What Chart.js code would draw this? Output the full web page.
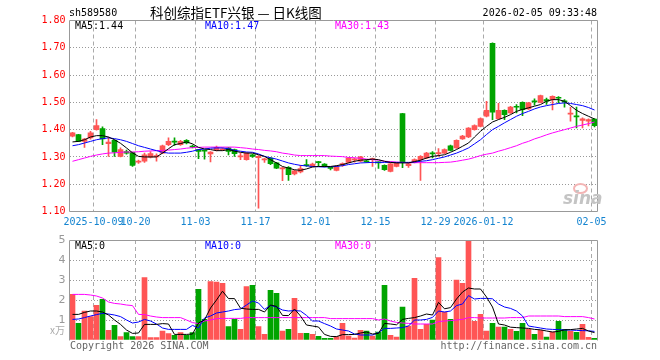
<!DOCTYPE html>
<html><head><meta charset="utf-8">
<script src="https://cdn.jsdelivr.net/npm/chart.js@4.4.1/dist/chart.umd.min.js"></script>
<style>
html,body{margin:0;padding:0;background:#fff;}
#wrap{position:relative;width:660px;height:360px;overflow:hidden;background:#fff;}
canvas{position:absolute;left:0;}
.t{position:absolute;white-space:nowrap;font-family:"DejaVu Sans Mono","Liberation Mono",monospace;font-size:10px;line-height:12px;color:#000;}
</style></head>
<body><div id="wrap">
<canvas id="main" width="660" height="240" style="top:0"></canvas>
<canvas id="vol" width="660" height="140" style="top:220px"></canvas>
<div class="t" style="left:69px;top:7px;">sh589580</div>
<div class="t" style="left:150px;top:4px;font-family:'Noto Sans CJK SC',sans-serif;font-size:13.5px;line-height:17px;">科创综指ETF兴银 — 日K线图</div>
<div class="t" style="right:63px;top:7px;">2026-02-05 09:33:48</div>
<div class="t" style="left:75px;top:20px;">MA5:1.44</div>
<div class="t" style="left:205px;top:20px;color:#0000ff;">MA10:1.47</div>
<div class="t" style="left:335px;top:20px;color:#ff00ff;">MA30:1.43</div>
<div class="t" style="left:75px;top:240px;">MA5:0</div>
<div class="t" style="left:205px;top:240px;color:#0000ff;">MA10:0</div>
<div class="t" style="left:335px;top:240px;color:#ff00ff;">MA30:0</div>
<div class="t" style="right:595px;top:324px;color:#aaa;font-family:'Noto Sans CJK SC',sans-serif;font-size:10px;">x万</div>
<div class="t" style="left:70px;top:340px;color:#666;">Copyright 2026 SINA.COM</div>
<div class="t" style="right:63px;top:340px;color:#666;">http://finance.sina.com.cn</div>
<div style="position:absolute;left:573px;top:183px;width:11px;height:7px;border:2px solid #f3b5b5;border-radius:50%;"></div>
<div class="t" style="left:563px;top:188px;color:#c4c4c4;font-family:'DejaVu Sans',sans-serif;font-size:17px;line-height:20px;font-style:italic;font-weight:bold;">sina</div>
</div>
<script>
const dates = ['2025-09-25','2025-09-26','2025-09-29','2025-09-30',
'2025-10-09','2025-10-10','2025-10-13','2025-10-14','2025-10-15','2025-10-16','2025-10-17',
'2025-10-20','2025-10-21','2025-10-22','2025-10-23','2025-10-24',
'2025-10-27','2025-10-28','2025-10-29','2025-10-30','2025-10-31',
'2025-11-03','2025-11-04','2025-11-05','2025-11-06','2025-11-07',
'2025-11-10','2025-11-11','2025-11-12','2025-11-13','2025-11-14',
'2025-11-17','2025-11-18','2025-11-19','2025-11-20','2025-11-21',
'2025-11-24','2025-11-25','2025-11-26','2025-11-27','2025-11-28',
'2025-12-01','2025-12-02','2025-12-03','2025-12-04','2025-12-05',
'2025-12-08','2025-12-09','2025-12-10','2025-12-11','2025-12-12',
'2025-12-15','2025-12-16','2025-12-17','2025-12-18','2025-12-19',
'2025-12-22','2025-12-23','2025-12-24','2025-12-25','2025-12-26',
'2025-12-29','2025-12-30','2025-12-31',
'2026-01-05','2026-01-06','2026-01-07','2026-01-08','2026-01-09',
'2026-01-12','2026-01-13','2026-01-14','2026-01-15','2026-01-16',
'2026-01-19','2026-01-20','2026-01-21','2026-01-22','2026-01-23',
'2026-01-26','2026-01-27','2026-01-28','2026-01-29','2026-01-30',
'2026-02-02','2026-02-03','2026-02-04','2026-02-05'];

const open = [1.376,1.382,1.357,1.370,1.400,1.404,1.349,1.361,1.302,1.320,
1.317,1.281,1.284,1.299,1.300,1.314,1.345,1.358,1.345,1.361,
1.340,1.327,1.324,1.311,1.325,1.326,1.333,1.327,1.300,1.290,
1.308,1.297,1.289,1.296,1.278,1.256,1.262,1.238,1.245,1.271,
1.265,1.282,1.274,1.262,1.251,1.272,1.280,1.289,1.284,1.285,
1.290,1.281,1.269,1.247,1.265,1.459,1.268,1.280,1.290,1.296,
1.314,1.312,1.314,1.341,1.333,1.366,1.373,1.400,1.412,1.449,
1.716,1.440,1.471,1.461,1.485,1.500,1.476,1.505,1.500,1.510,
1.510,1.518,1.506,1.457,1.451,1.434,1.431,1.439];
const close = [1.388,1.357,1.365,1.388,1.415,1.366,1.354,1.317,1.327,1.314,
1.269,1.284,1.308,1.312,1.305,1.341,1.357,1.354,1.357,1.351,
1.336,1.320,1.321,1.318,1.335,1.329,1.320,1.312,1.304,1.314,
1.302,1.302,1.292,1.275,1.259,1.260,1.235,1.249,1.257,1.268,
1.274,1.279,1.265,1.258,1.265,1.275,1.296,1.292,1.300,1.282,
1.293,1.278,1.253,1.275,1.278,1.280,1.275,1.290,1.302,1.314,
1.311,1.315,1.327,1.324,1.361,1.376,1.406,1.415,1.441,1.471,
1.464,1.471,1.455,1.483,1.482,1.473,1.498,1.502,1.525,1.504,
1.522,1.515,1.502,1.460,1.447,1.440,1.437,1.415];
const high = [1.390,1.383,1.368,1.394,1.437,1.410,1.373,1.363,1.333,1.325,
1.318,1.288,1.314,1.320,1.311,1.343,1.370,1.370,1.361,1.364,
1.343,1.328,1.324,1.320,1.340,1.333,1.335,1.329,1.314,1.316,
1.310,1.305,1.296,1.298,1.280,1.262,1.265,1.252,1.269,1.290,
1.277,1.284,1.276,1.263,1.268,1.278,1.298,1.296,1.302,1.290,
1.296,1.282,1.271,1.278,1.280,1.460,1.278,1.293,1.305,1.317,
1.320,1.331,1.330,1.343,1.363,1.379,1.408,1.418,1.443,1.504,
1.718,1.496,1.473,1.485,1.492,1.502,1.500,1.513,1.527,1.516,
1.524,1.521,1.510,1.482,1.483,1.443,1.440,1.441];
const low = [1.373,1.356,1.335,1.365,1.398,1.345,1.302,1.302,1.300,1.310,
1.265,1.276,1.280,1.296,1.284,1.312,1.341,1.342,1.342,1.348,
1.333,1.294,1.292,1.282,1.322,1.324,1.307,1.302,1.290,1.288,
1.298,1.112,1.280,1.272,1.257,1.213,1.214,1.234,1.241,1.265,
1.263,1.265,1.263,1.252,1.249,1.265,1.278,1.281,1.282,1.280,
1.265,1.258,1.251,1.245,1.263,1.261,1.262,1.278,1.214,1.294,
1.296,1.302,1.312,1.322,1.331,1.364,1.371,1.398,1.410,1.447,
1.437,1.438,1.437,1.459,1.461,1.451,1.474,1.490,1.498,1.492,
1.472,1.498,1.482,1.431,1.406,1.406,1.414,1.410];

const ma5 = [1.355,1.357,1.363,1.373,1.378,1.378,1.373,1.363,1.350,1.333,
1.315,1.302,1.300,1.300,1.300,1.314,1.330,1.345,1.349,1.355,
1.348,1.335,1.329,1.327,1.323,1.323,1.327,1.321,1.317,1.314,
1.314,1.308,1.302,1.290,1.278,1.265,1.259,1.253,1.251,1.256,
1.263,1.265,1.265,1.265,1.268,1.272,1.278,1.284,1.288,1.290,
1.292,1.290,1.284,1.280,1.278,1.278,1.278,1.283,1.288,1.296,
1.302,1.305,1.308,1.317,1.327,1.339,1.351,1.373,1.394,1.412,
1.428,1.437,1.445,1.455,1.467,1.474,1.480,1.486,1.492,1.504,
1.510,1.510,1.504,1.488,1.471,1.459,1.449,1.439];
const ma10 = [1.341,1.345,1.351,1.357,1.363,1.367,1.370,1.367,1.363,1.357,
1.349,1.341,1.335,1.329,1.323,1.317,1.314,1.314,1.314,1.317,
1.321,1.327,1.329,1.332,1.333,1.333,1.330,1.324,1.321,1.318,
1.317,1.311,1.302,1.297,1.292,1.285,1.278,1.273,1.269,1.267,
1.265,1.264,1.263,1.264,1.265,1.268,1.272,1.275,1.278,1.279,
1.280,1.280,1.280,1.280,1.280,1.280,1.280,1.281,1.284,1.286,
1.290,1.295,1.300,1.307,1.314,1.323,1.333,1.348,1.363,1.382,
1.400,1.412,1.425,1.437,1.449,1.459,1.467,1.476,1.483,1.488,
1.492,1.496,1.498,1.496,1.492,1.488,1.481,1.472];
const ma30 = [1.284,1.290,1.296,1.302,1.307,1.311,1.314,1.315,1.317,1.318,
1.318,1.319,1.321,1.322,1.323,1.324,1.325,1.327,1.329,1.332,
1.334,1.335,1.336,1.336,1.336,1.336,1.336,1.336,1.334,1.332,
1.329,1.327,1.324,1.322,1.319,1.314,1.311,1.307,1.305,1.305,
1.305,1.305,1.305,1.303,1.302,1.301,1.298,1.297,1.295,1.292,
1.290,1.288,1.284,1.283,1.281,1.280,1.279,1.279,1.279,1.279,
1.279,1.279,1.280,1.281,1.284,1.288,1.292,1.298,1.305,1.310,
1.314,1.321,1.327,1.334,1.341,1.350,1.357,1.366,1.373,1.381,
1.388,1.394,1.400,1.406,1.412,1.417,1.422,1.428];

const volume = [2.28,0.83,1.45,1.17,1.73,2.03,0.48,0.73,0.17,0.37,
0.17,0.17,3.12,0.12,0.12,0.45,0.32,0.23,0.37,0.23,
0.37,2.53,1.03,2.92,2.90,2.83,0.67,1.03,0.53,2.67,
2.73,0.67,0.28,2.48,2.33,0.45,0.53,2.08,0.33,0.33,
0.28,0.18,0.08,0.08,0.17,0.83,0.20,0.10,0.48,0.45,
0.20,0.40,2.73,0.23,0.15,1.65,0.70,3.08,0.53,0.78,
1.00,4.12,1.40,1.03,3.00,2.83,4.93,0.93,1.28,0.45,
0.83,0.65,0.65,0.53,0.43,0.83,0.53,0.28,0.48,0.15,
0.40,0.93,0.53,0.45,0.38,0.78,0.13,0.08];
const vma5 = [1.28,1.28,1.38,1.45,1.45,1.40,1.25,1.00,0.78,0.50,
0.33,0.35,0.78,0.78,0.78,0.82,0.80,0.28,0.28,0.28,
0.30,0.85,1.00,1.60,2.00,2.44,2.07,2.07,1.59,
1.55,1.53,1.53,1.40,1.75,1.68,1.23,1.22,1.55,1.20,0.75,
0.70,0.65,0.28,0.18,0.17,0.27,0.27,0.28,0.35,0.40,
0.30,0.33,0.83,0.80,0.76,1.03,1.08,
1.12,1.20,1.30,1.25,1.88,1.56,1.62,2.05,2.40,2.60,
2.55,2.55,2.15,1.65,0.80,0.75,0.64,0.62,0.60,0.58,
0.53,0.51,0.45,0.40,0.43,0.51,0.52,0.55,0.58,0.45,0.37];
const vma10 = [1.03,1.05,1.12,1.20,1.27,1.33,1.30,1.25,1.17,1.00,
0.85,0.90,1.03,0.95,0.80,0.60,0.53,0.53,0.53,0.53,
0.73,0.60,1.10,1.20,1.35,1.40,1.45,1.52,1.55,
1.75,1.95,1.85,1.53,1.73,1.65,1.50,1.45,1.47,1.45,1.23,
0.95,0.95,0.82,0.70,0.55,0.50,0.45,0.30,0.25,0.25,
0.25,0.37,0.58,0.58,0.60,0.62,0.70,
1.00,1.00,1.03,1.13,1.45,1.40,1.45,1.72,1.80,2.22,
2.05,2.08,2.08,2.06,1.80,1.65,1.58,1.45,1.20,0.70,
0.65,0.60,0.55,0.53,0.52,0.50,0.50,0.48,0.47,0.46,0.43];
const vma30 = [2.28,2.28,2.28,2.25,2.20,2.10,1.90,1.83,1.80,1.75,
1.72,1.28,1.27,1.20,1.15,1.12,1.12,1.12,1.12,1.00,
0.87,0.82,0.95,1.00,1.07,1.08,1.08,1.08,1.08,
1.12,1.12,1.12,1.12,1.12,1.12,1.12,1.12,1.12,1.12,1.12,
1.12,1.12,1.12,1.07,1.07,1.07,1.07,1.07,1.07,1.07,
1.07,1.00,1.05,0.95,0.88,0.85,0.83,
0.80,0.80,0.80,0.80,0.92,0.95,0.97,1.00,1.03,1.12,
1.12,1.10,1.10,1.10,1.10,1.10,1.12,1.12,1.12,1.20,
1.20,1.20,1.20,1.20,1.20,1.17,1.17,1.17,1.17,1.12,1.05];

const tickDates = ['2025-10-09','2025-10-20','2025-11-03','2025-11-17','2025-12-01','2025-12-15','2025-12-29','2026-01-12','2026-02-05'];
const tickTexts = ['2025-10-09','10-20','11-03','11-17','12-01','12-15','12-29','2026-01-12','02-05'];
const priceTicks = [1.10,1.20,1.30,1.40,1.50,1.60,1.70,1.80];
const volTicks = [1,2,3,4,5];

const RED = '#ff5555', GREEN = '#00a400';
const upColor = dates.map((d,i) => close[i] >= open[i] ? RED : GREEN);
const tickIdx = new Set(tickDates.map(d => dates.indexOf(d)));
const MONO = '"DejaVu Sans Mono","Liberation Mono",monospace';

const frame = {
  id: 'frame',
  afterDraw(chart, args, o) {
    const {ctx, chartArea: a} = chart;
    const L = Math.floor(a.left) + 0.5, R = Math.floor(a.right) + 0.5;
    const T = Math.floor(a.top) + 0.5, B = Math.floor(a.bottom) + 0.5;
    ctx.save();
    ctx.strokeStyle = '#999'; ctx.lineWidth = 1; ctx.setLineDash([]);
    ctx.beginPath();
    if (o.bottom) { ctx.moveTo(L, B); ctx.lineTo(R, B); }
    ctx.moveTo(L, B); ctx.lineTo(L, T); ctx.lineTo(R, T); ctx.lineTo(R, B);
    ctx.stroke();
    ctx.restore();
  }
};

const xGrid = {
  offset: true, drawTicks: false, lineWidth: 1,
  color: c => tickIdx.has(c.index) ? '#aaa' : 'rgba(0,0,0,0)'
};

new Chart(document.getElementById('main'), {
  type: 'bar',
  data: {
    labels: dates,
    datasets: [
      {type:'line', data: ma5, borderColor:'#000000', borderWidth:1, pointRadius:0, tension:0, order:0},
      {type:'line', data: ma10, borderColor:'#0000ff', borderWidth:1, pointRadius:0, tension:0, order:0},
      {type:'line', data: ma30, borderColor:'#ff00ff', borderWidth:1, pointRadius:0, tension:0, order:0},
      {type:'bar', data: dates.map((d,i) => [low[i], high[i]]), backgroundColor: upColor, barThickness:1, grouped:false, order:2},
      {type:'bar', data: dates.map((d,i) => [open[i], close[i]]), backgroundColor: upColor, barThickness:5, minBarLength:1, grouped:false, order:1}
    ]
  },
  options: {
    responsive:false, animation:false, devicePixelRatio:1,
    layout:{padding:{left:0, right:62.5, top:20.5, bottom:0}},
    plugins:{legend:{display:false}, tooltip:{enabled:false}, frame:{bottom:true}},
    scales:{
      x:{
        grid: xGrid,
        border:{display:false, dash:[4,3]},
        afterFit(s){ s.height = 28.5; },
        ticks:{autoSkip:false, maxRotation:0, minRotation:0, padding:5, labelOffset:-3,
          color:'#1484d0', font:{family:MONO, size:10},
          callback:(v,i) => { const k = tickDates.indexOf(dates[i]); return k >= 0 ? tickTexts[k] : ''; }}
      },
      y:{
        min:1.10, max:1.80,
        afterFit(s){ s.width = 69.5; },
        afterBuildTicks(s){ s.ticks = priceTicks.map(v => ({value:v})); },
        grid:{color:'#999', drawTicks:false, lineWidth:1},
        border:{display:false, dash:[1,2]},
        ticks:{color:'#ff0000', padding:4, font:{family:MONO, size:10}, callback:v => Number(v).toFixed(2)}
      }
    }
  },
  plugins:[frame]
});

new Chart(document.getElementById('vol'), {
  type: 'bar',
  data: {
    labels: dates,
    datasets: [
      {type:'line', data: vma5, borderColor:'#000000', borderWidth:1, pointRadius:0, tension:0, order:0},
      {type:'line', data: vma10, borderColor:'#0000ff', borderWidth:1, pointRadius:0, tension:0, order:0},
      {type:'line', data: vma30, borderColor:'#ff00ff', borderWidth:1, pointRadius:0, tension:0, order:0},
      {type:'bar', data: volume, backgroundColor: upColor, barThickness:5, order:1}
    ]
  },
  options: {
    responsive:false, animation:false, devicePixelRatio:1,
    layout:{padding:{left:0, right:62.5, top:20, bottom:20}},
    plugins:{legend:{display:false}, tooltip:{enabled:false}, frame:{bottom:false}},
    scales:{
      x:{
        grid: xGrid,
        border:{display:false, dash:[4,3]},
        afterFit(s){ s.height = 0; },
        ticks:{display:false}
      },
      y:{
        min:0, max:5,
        afterFit(s){ s.width = 69.5; },
        afterBuildTicks(s){ s.ticks = [0].concat(volTicks).map(v => ({value:v})); },
        grid:{color:c => c.tick && c.tick.value === 0 ? 'rgba(0,0,0,0)' : '#999', drawTicks:false, lineWidth:1},
        border:{display:false, dash:[1,2]},
        ticks:{color:'#999', padding:4, font:{family:'"DejaVu Sans",sans-serif', size:11}, callback:v => v === 0 ? '' : String(v)}
      }
    }
  },
  plugins:[frame]
});
</script>
</body></html>
